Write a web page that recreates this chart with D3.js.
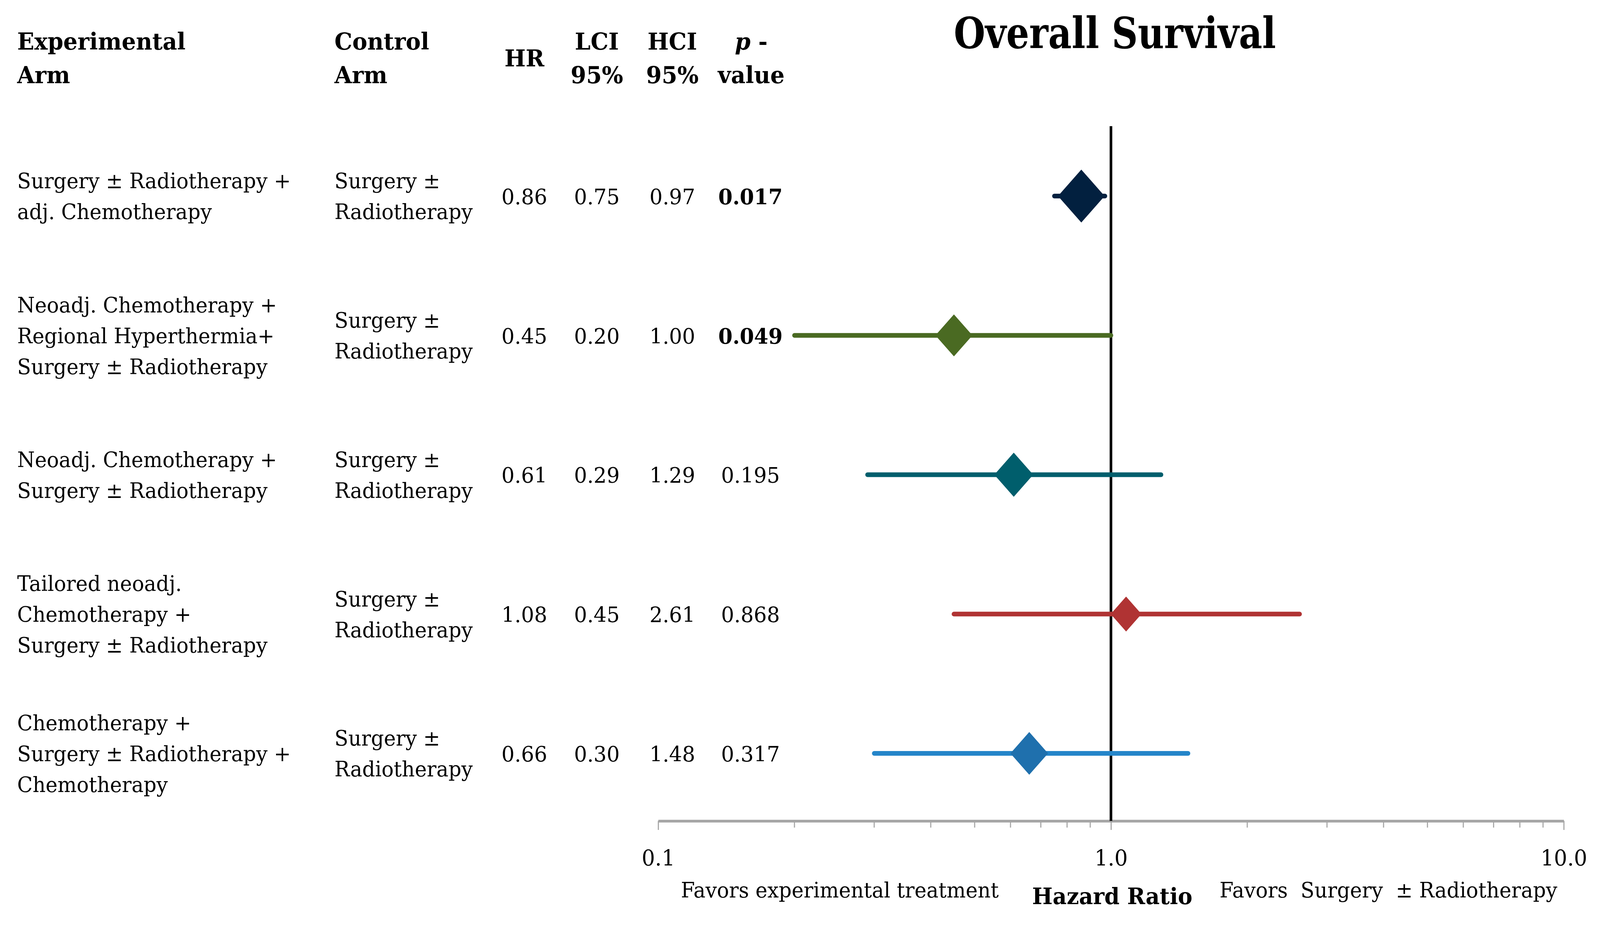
<!DOCTYPE html>
<html>
<head>
  <meta charset="utf8">
  <style type="text/css">
    html, body { margin: 0; padding: 0; background: #fff; overflow: hidden; }
    svg { display: block; width: 100vw; height: 100vh; }
    svg text { font-family: "DejaVu Serif", serif; fill: #000; }
    .hdr { font-weight: bold; font-size: 60px; }
    .body { font-size: 54px; }
    .num { font-size: 55px; text-anchor: middle; }
    .axis text { font-size: 56px; font-family: "DejaVu Serif", serif; }
  </style>
</head>
<body>

<script src="https://d3js.org/d3.v7.min.js"></script>

<script type="text/javascript">
var width = 4281, height = 2371;

// data
var experimental = [
  ['Surgery \u00b1 Radiotherapy +', 'adj. Chemotherapy'],
  ['Neoadj. Chemotherapy +', 'Regional Hyperthermia+', 'Surgery \u00b1 Radiotherapy'],
  ['Neoadj. Chemotherapy +', 'Surgery \u00b1 Radiotherapy'],
  ['Tailored neoadj.', 'Chemotherapy +', 'Surgery \u00b1 Radiotherapy'],
  ['Chemotherapy +', 'Surgery \u00b1 Radiotherapy +', 'Chemotherapy']
];
var control = [
  ['Surgery \u00b1', 'Radiotherapy'],
  ['Surgery \u00b1', 'Radiotherapy'],
  ['Surgery \u00b1', 'Radiotherapy'],
  ['Surgery \u00b1', 'Radiotherapy'],
  ['Surgery \u00b1', 'Radiotherapy']
];
var hr  = [0.86, 0.45, 0.61, 1.08, 0.66];
var lci = [0.75, 0.20, 0.29, 0.45, 0.30];
var hci = [0.97, 1.00, 1.29, 2.61, 1.48];
var pval = ['0.017', '0.049', '0.195', '0.868', '0.317'];
var significant = [true, true, false, false, false];
var weight = [46, 29, 32, 20, 30];
var majorTicks = [0.1, 1, 10];
var minorTicks = [0.2, 0.3, 0.4, 0.5, 0.6, 0.7, 0.8, 0.9, 2, 3, 4, 5, 6, 7, 8, 9];

var lineColor    = ['#02203f', '#4a6a22', '#005e6c', '#b03333', '#2485c9'];
var diamondColor = ['#02203f', '#4a6a22', '#005e6c', '#b03333', '#1f70ad'];

// fill the window whatever its real size
var svg = d3.select('body').append('svg')
    .attr('viewBox', '0 0 ' + width + ' ' + height)
    .attr('preserveAspectRatio', 'none');

var x = d3.scaleLog().domain([0.1, 10]).range([1761, 4184]);
var y = d3.scalePoint().domain(d3.range(hr.length)).range([502, 1929]);
var size = d3.scaleSqrt().domain([0, 1]).range([0, 10]);

var lineGap = 79, capH = 40;

// title
svg.append('text')
  .attr('x', 2983).attr('y', 123)
  .attr('text-anchor', 'middle')
  .attr('textLength', 862)
  .attr('lengthAdjust', 'spacingAndGlyphs')
  .style('font-weight', 'bold')
  .style('font-size', '110px')
  .text('Overall Survival');

// column headers
var headers = [
  { x: 46,   anchor: 'start',  lines: ['Experimental', 'Arm'] },
  { x: 895,  anchor: 'start',  lines: ['Control', 'Arm'] },
  { x: 1403, anchor: 'middle', lines: ['HR'] },
  { x: 1597, anchor: 'middle', lines: ['LCI', '95%'] },
  { x: 1799, anchor: 'middle', lines: ['HCI', '95%'] },
  { x: 2010, anchor: 'middle', lines: ['p -', 'value'] }
];
headers.forEach(function(h) {
  var t = svg.append('text').attr('class', 'hdr')
    .attr('text-anchor', h.anchor);
  h.lines.forEach(function(l, i) {
    var ty = h.lines.length == 1 ? 170 : 127 + i * 86;
    var ts = t.append('tspan').attr('x', h.x).attr('y', ty).text(l);
    if (l == 'p -') {
      ts.text('');
      ts.append('tspan').style('font-style', 'italic').text('p');
      ts.append('tspan').text(' -');
    }
  });
});

function multiline(g, lines, xx, cy) {
  var t = g.append('text').attr('class', 'body');
  var n = lines.length;
  lines.forEach(function(l, i) {
    t.append('tspan')
      .attr('x', xx)
      .attr('y', cy + capH / 2 + (i - (n - 1) / 2) * lineGap)
      .text(l);
  });
}

var rows = svg.append('g').selectAll('g.row')
  .data(hr).enter().append('g').attr('class', 'row');

rows.each(function(d, i) {
  var g = d3.select(this), cy = y(i);
  multiline(g, experimental[i], 46, cy);
  multiline(g, control[i], 895, cy);
  var cols = [[1403, hr[i].toFixed(2)], [1597, lci[i].toFixed(2)],
              [1799, hci[i].toFixed(2)], [2008, pval[i]]];
  cols.forEach(function(c, j) {
    g.append('text').attr('class', 'num')
      .attr('x', c[0]).attr('y', cy + 21)
      .style('font-weight', j == 3 && significant[i] ? 'bold' : null)
      .text(c[1]);
  });
});

// axis
var axisY = 2102;
var ax = svg.append('g').attr('class', 'axis')
  .attr('transform', 'translate(0,' + axisY + ')');

ax.selectAll('line.minor').data(minorTicks).enter().append('line')
  .attr('class', 'minor')
  .attr('x1', function(d) { return x(d); })
  .attr('x2', function(d) { return x(d); })
  .attr('y1', 0).attr('y2', 17)
  .style('stroke', '#a6a6a6').style('stroke-width', 3);

ax.call(d3.axisBottom(x)
    .tickValues(majorTicks)
    .tickFormat(d3.format('.1f'))
    .tickSize(23)
    .tickSizeOuter(0));
ax.select('.domain').style('stroke', '#a6a6a6').style('stroke-width', 7);
ax.selectAll('.tick line').style('stroke', '#a6a6a6').style('stroke-width', 3);
ax.selectAll('.tick text').style('fill', '#000').attr('dy', null).attr('y', 114);

// reference line at HR = 1
svg.append('line')
  .attr('x1', x(1)).attr('x2', x(1))
  .attr('y1', 323).attr('y2', axisY)
  .style('stroke', '#000').style('stroke-width', 7);

// CI lines and diamonds
var marks = svg.append('g');
marks.selectAll('line.ci').data(hr).enter().append('line')
  .attr('class', 'ci')
  .attr('x1', function(d, i) { return x(lci[i]); })
  .attr('x2', function(d, i) { return x(hci[i]); })
  .attr('y1', function(d, i) { return y(i); })
  .attr('y2', function(d, i) { return y(i); })
  .style('stroke', function(d, i) { return lineColor[i]; })
  .style('stroke-width', 12)
  .style('stroke-linecap', 'round');

marks.selectAll('path.dm').data(hr).enter().append('path')
  .attr('class', 'dm')
  .attr('d', function(d, i) {
    var cx = x(d), cy = y(i), h = size(weight[i]), w = h * 0.92;
    return 'M' + cx + ',' + (cy - h) + 'L' + (cx + w) + ',' + cy +
      'L' + cx + ',' + (cy + h) + 'L' + (cx - w) + ',' + cy + 'Z';
  })
  .style('fill', function(d, i) { return diamondColor[i]; });

// axis captions
svg.append('text').attr('class', 'body')
  .attr('x', 2247).attr('y', 2298).attr('text-anchor', 'middle')
  .text('Favors experimental treatment');
svg.append('text')
  .attr('x', 2976).attr('y', 2315).attr('text-anchor', 'middle')
  .style('font-weight', 'bold').style('font-size', '58px')
  .text('Hazard Ratio');
svg.append('text').attr('class', 'body')
  .attr('x', 3715).attr('y', 2298).attr('text-anchor', 'middle')
  .style('white-space', 'pre')
  .text('Favors  Surgery  \u00b1 Radiotherapy');

</script>

</body>
</html>
